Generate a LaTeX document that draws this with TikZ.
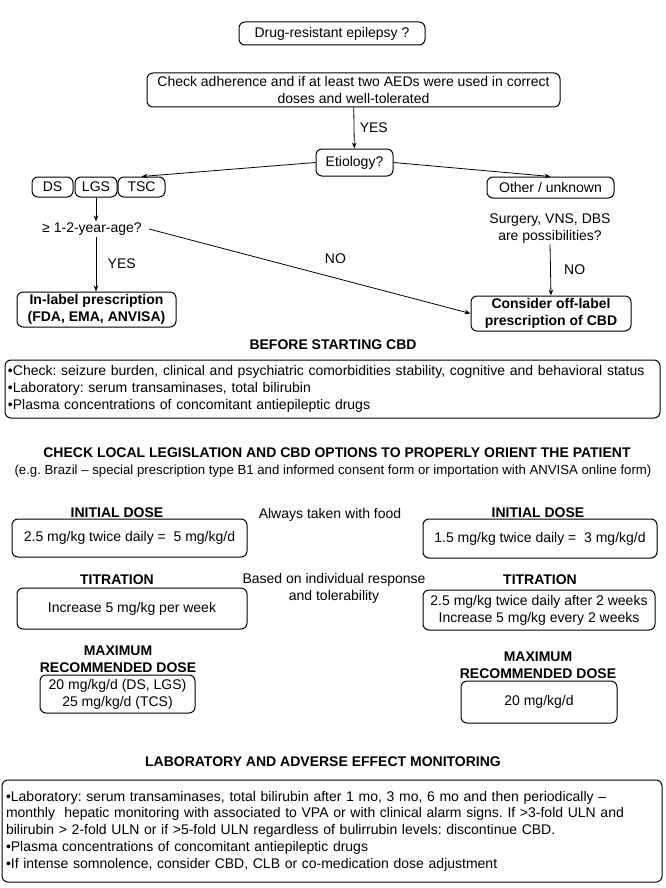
\documentclass[tikz,border=0pt]{standalone}
\usepackage{fontspec}
\setmainfont{Liberation Sans}
\usepackage{tikz}
\usetikzlibrary{
    positioning,
    arrows.meta,
    calc
}
\newcommand{\fs}{\fontsize{14}{16.8}\selectfont\frenchspacing}
\newcommand{\fsmall}{\fontsize{13.2}{16}\selectfont\frenchspacing}

\begin{document}
\begin{tikzpicture}[x=1pt, y=-1pt, >={Stealth[length=6pt, width=4.5pt]},
    box/.style={draw, line width=1pt, rounded corners=6pt, align=center, inner sep=0pt, font=\fs},
    txt/.style={align=center, inner sep=1pt, font=\fs},
    head/.style={align=center, inner sep=1pt, font=\fs\bfseries},
    arr/.style={->, line width=0.8pt}]
            % 枠 (666 x 888)
            \useasboundingbox (0,0) rectangle (666,888);

            % 上段: 判定
            \node[box, minimum width=186pt, minimum height=23pt] (drug) at (332,33.5) {Drug-resistant epilepsy ?};
            \node[box, minimum width=413pt, minimum height=34pt] (adh) at (353.5,90)
                {Check adherence and if at least two AEDs were used in correct\\doses and well-tolerated};
            \node[box, minimum width=77pt, minimum height=27pt] (etio) at (354.5,162.5) {Etiology?};
            \draw[arr] (adh) -- (etio) node[midway, right=2pt, font=\fs]{YES};

            % 病因
            \node[box, minimum width=41pt, minimum height=20pt] (ds) at (52.5,187) {DS};
            \node[box, minimum width=42pt, minimum height=20pt] (lgs) at (96,187) {LGS};
            \node[box, minimum width=47pt, minimum height=20pt] (tsc) at (141.5,187) {TSC};
            \node[box, minimum width=127pt, minimum height=21pt] (other) at (550.5,187.5) {Other / unknown};
            \draw[arr] (etio.west) -- (tsc.north);
            \draw[arr] (etio.east) -- (other.north);

            % 年齢 / 他の選択肢
            \node[txt] (age) at (92,229) {≥ 1-2-year-age?};
            \node[txt] (surg) at (550,228.5) {Surgery, VNS, DBS\\are possibilities?};
            \draw[arr] (lgs.south) -- (lgs.south |- age.north);

            % 処方
            \node[box, minimum width=159pt, minimum height=35pt, font=\fs\bfseries] (inlab) at (96.5,309.5)
                {In-label prescription\\(FDA, EMA, ANVISA)};
            \node[box, minimum width=160pt, minimum height=35pt, font=\fs\bfseries] (offlab) at (551,313.5)
                {Consider off-label\\prescription of CBD};
            \draw[arr] (lgs.south |- age.south) -- (lgs.south |- inlab.north) node[midway, right=8pt, font=\fs]{YES};
            \draw[arr] ([xshift=6pt]age.east) -- (offlab.west) node[pos=0.58, above=11pt, font=\fs]{NO};
            \draw[arr] (surg.south) -- (offlab.north) node[midway, right=10pt, font=\fs]{NO};

            % 開始前
            \node[head] (before) at (333,345) {BEFORE STARTING CBD};
            \node[box, minimum width=655pt, minimum height=58pt, text width=649pt, inner xsep=3pt, align=left] (pre) at (332.5,389)
                {•Check: seizure burden, clinical and psychiatric comorbidities stability, cognitive and behavioral status\\
                 •Laboratory: serum transaminases, total bilirubin\\
                 •Plasma concentrations of concomitant antiepileptic drugs};

            \node[head] (legis) at (337,453) {CHECK LOCAL LEGISLATION AND CBD OPTIONS TO PROPERLY ORIENT THE PATIENT};
            \node[txt, font=\fsmall] (eg) at (333,471)
                {(e.g. Brazil – special prescription type B1 and informed consent form or importation with ANVISA online form)};

            % 用量 (左 / 右)
            \node[head] (initL) at (117,513) {INITIAL DOSE};
            \node[head] (initR) at (538,513) {INITIAL DOSE};
            \node[txt] (food) at (330,515) {Always taken with food};
            \node[box, minimum width=235pt, minimum height=38pt] (doseL) at (129.5,538) {2.5 mg/kg twice daily =\ \ 5 mg/kg/d};
            \node[box, minimum width=234pt, minimum height=39pt] (doseR) at (540,538.5) {1.5 mg/kg twice daily =\ \ 3 mg/kg/d};

            \node[head] (titL) at (117,580) {TITRATION};
            \node[head] (titR) at (540,580) {TITRATION};
            \node[txt] (based) at (334,588.5) {Based on individual response\\and tolerability};
            \node[box, minimum width=230pt, minimum height=41pt] (stepL) at (132,608.5) {Increase 5 mg/kg per week};
            \node[box, minimum width=232pt, minimum height=40pt] (stepR) at (539,610)
                {2.5 mg/kg twice daily after 2 weeks\\Increase 5 mg/kg every 2 weeks};

            \node[head] (maxL) at (118,659) {MAXIMUM\\RECOMMENDED DOSE};
            \node[head] (maxR) at (538,665) {MAXIMUM\\RECOMMENDED DOSE};
            \node[box, minimum width=155pt, minimum height=38pt] (topL) at (117.5,694) {20 mg/kg/d (DS, LGS)\\25 mg/kg/d (TCS)};
            \node[box, minimum width=156pt, minimum height=42pt] (topR) at (539,702) {20 mg/kg/d};

            % モニタリング
            \node[head] (labH) at (323,762) {LABORATORY AND ADVERSE EFFECT MONITORING};
            \node[box, minimum width=660pt, minimum height=102pt, text width=652pt, inner xsep=4pt, align=left] (lab) at (332,831)
                {•Laboratory: serum transaminases, total bilirubin after 1 mo, 3 mo, 6 mo and then periodically –\\
                 monthly\ \ hepatic monitoring with associated to VPA or with clinical alarm signs. If >3-fold ULN and\\
                 bilirubin > 2-fold ULN or if >5-fold ULN regardless of bulirrubin levels: discontinue CBD.\\
                 •Plasma concentrations of concomitant antiepileptic drugs\\
                 •If intense somnolence, consider CBD, CLB or co-medication dose adjustment};
        \end{tikzpicture}
\end{document}
